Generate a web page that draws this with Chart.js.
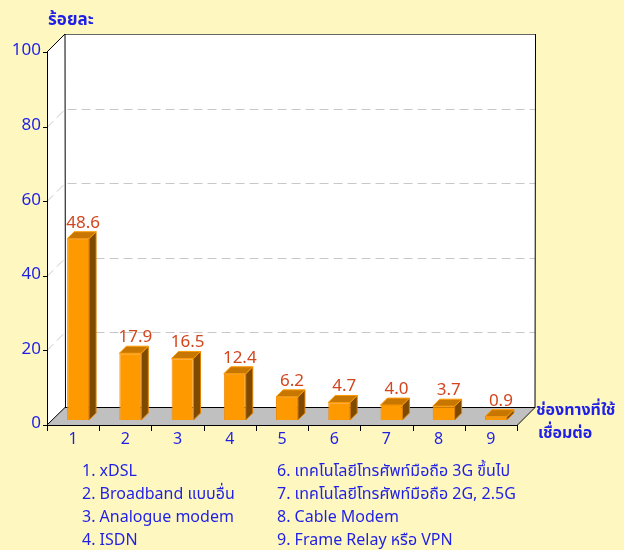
<!DOCTYPE html>
<html>
<head>
<meta charset="utf-8">
<script src="https://cdn.jsdelivr.net/npm/chart.js@4.4.1/dist/chart.umd.min.js"></script>
<style>
  html, body { margin: 0; padding: 0; background: #fef8c0; }
  #wrap { width: 624px; height: 550px; }
</style>
</head>
<body>
<div id="wrap"><canvas id="myChart" width="624" height="550"></canvas></div>
<script>
// Datos
const categorias = ["1", "2", "3", "4", "5", "6", "7", "8", "9"]
const valores = [48.6, 17.9, 16.5, 12.4, 6.2, 4.7, 4.0, 3.7, 0.9]
const ticksY = [0, 20, 40, 60, 80, 100]
const leyendaIzq = ["1. xDSL", "2. Broadband แบบอื่น", "3. Analogue modem", "4. ISDN"]
const leyendaDer = ["6. เทคโนโลยีโทรศัพท์มือถือ 3G ขึ้นไป", "7. เทคโนโลยีโทรศัพท์มือถือ 2G, 2.5G", "8. Cable Modem", "9. Frame Relay หรือ VPN"]
const tituloY = "ร้อยละ"
const tituloX = ["ช่องทางที่ใช้", "เชื่อมต่อ"]

const fuente = "Tahoma, 'Noto Sans Thai', 'Noto Sans', sans-serif"
const azul = "#1f1fe6"
const fondo = "#fef8c0"
const PROF = 18   // profundidad de la caja
const BAR_D = 7   // profundidad de la barra
const DESP = 5    // desplazamiento de la barra

const caja3d = {
    id: "caja3d",
    beforeDraw(chart) {
        const ctx = chart.ctx
        const { left, right, top, bottom } = chart.chartArea
        const y = chart.scales.y
        ctx.save()
        ctx.fillStyle = fondo
        ctx.fillRect(0, 0, chart.width, chart.height)

        // pared izquierda
        ctx.fillStyle = "#ffffff"
        ctx.beginPath()
        ctx.moveTo(left, top); ctx.lineTo(left + PROF, top - PROF)
        ctx.lineTo(left + PROF, bottom - PROF); ctx.lineTo(left, bottom)
        ctx.closePath(); ctx.fill()
        // pared del fondo
        ctx.fillRect(left + PROF, top - PROF, right - left, bottom - top)
        // piso
        ctx.fillStyle = "#c0c0c0"
        ctx.beginPath()
        ctx.moveTo(left, bottom); ctx.lineTo(left + PROF, bottom - PROF)
        ctx.lineTo(right + PROF, bottom - PROF); ctx.lineTo(right, bottom)
        ctx.closePath(); ctx.fill()

        // grilla
        ctx.strokeStyle = "#c8c8c8"
        ctx.lineWidth = 1
        ctx.setLineDash([9, 5])
        for (const v of ticksY) {
            if (v === 0 || v === 100) continue
            const py = Math.round(y.getPixelForValue(v)) + 0.5
            ctx.beginPath()
            ctx.moveTo(left, py); ctx.lineTo(left + PROF, py - PROF)
            ctx.lineTo(right + PROF, py - PROF)
            ctx.stroke()
        }
        ctx.setLineDash([])
        ctx.strokeStyle = "#666666"
        ctx.beginPath()
        ctx.moveTo(left + PROF, top - PROF + 0.5); ctx.lineTo(right + PROF, top - PROF + 0.5)
        ctx.stroke()

        // bordes
        ctx.strokeStyle = "#000000"
        ctx.beginPath()
        ctx.moveTo(left + 0.5, top); ctx.lineTo(left + 0.5, bottom + 0.5)
        ctx.lineTo(right, bottom + 0.5)
        ctx.lineTo(right + PROF, bottom - PROF + 0.5)
        ctx.lineTo(right + PROF + 0.5, top - PROF)
        ctx.moveTo(left, top); ctx.lineTo(left + PROF, top - PROF)
        ctx.lineTo(left + PROF + 0.5, bottom - PROF)
        ctx.lineTo(left, bottom)
        ctx.moveTo(left + PROF, bottom - PROF + 0.5); ctx.lineTo(right + PROF, bottom - PROF + 0.5)
        ctx.stroke()

        // marcas de los ejes
        ctx.beginPath()
        for (const v of ticksY) {
            const py = Math.round(y.getPixelForValue(v)) + 0.5
            ctx.moveTo(left - 4, py); ctx.lineTo(left, py)
        }
        const paso = (right - left) / categorias.length
        for (let i = 0; i <= categorias.length; i++) {
            const px = Math.round(left + i * paso) + 0.5
            ctx.moveTo(px, bottom); ctx.lineTo(px, bottom + 6)
        }
        ctx.stroke()
        ctx.restore()
    },
    beforeDatasetsDraw(chart) {
        chart.ctx.save()
        chart.ctx.translate(DESP, -DESP)
    },
    afterDatasetsDraw(chart) {
        const ctx = chart.ctx
        const meta = chart.getDatasetMeta(0)
        meta.data.forEach((bar, i) => {
            const { x, y, base, width } = bar.getProps(["x", "y", "base", "width"], true)
            const l = x - width / 2
            const r = x + width / 2
            // lado
            ctx.fillStyle = "#7d4a00"
            ctx.strokeStyle = "#e08000"
            ctx.lineWidth = 1
            ctx.beginPath()
            ctx.moveTo(r, y); ctx.lineTo(r + BAR_D, y - BAR_D)
            ctx.lineTo(r + BAR_D, base - BAR_D); ctx.lineTo(r, base)
            ctx.closePath(); ctx.fill(); ctx.stroke()
            // tapa
            ctx.fillStyle = "#c77700"
            ctx.strokeStyle = "#ff9900"
            ctx.beginPath()
            ctx.moveTo(l, y); ctx.lineTo(l + BAR_D, y - BAR_D)
            ctx.lineTo(r + BAR_D, y - BAR_D); ctx.lineTo(r, y)
            ctx.closePath(); ctx.fill(); ctx.stroke()
            // etiqueta
            ctx.fillStyle = "#d2461e"
            ctx.font = "17px " + fuente
            ctx.textAlign = "center"
            ctx.textBaseline = "bottom"
            ctx.fillText(valores[i].toFixed(1), x + 5, y - BAR_D + 1)
        })
        ctx.restore()
    },
    afterDraw(chart) {
        const ctx = chart.ctx
        ctx.save()
        ctx.fillStyle = azul
        ctx.textBaseline = "middle"
        ctx.textAlign = "left"
        ctx.font = "bold 17px " + fuente
        ctx.fillText(tituloY, 48, 22)
        ctx.font = "bold 16px " + fuente
        ctx.fillText(tituloX[0], 536, 412)
        ctx.fillText(tituloX[1], 538, 435)
        ctx.font = "16px " + fuente
        leyendaIzq.forEach((t, i) => ctx.fillText(t, 82, 473 + i * 23))
        leyendaDer.forEach((t, i) => ctx.fillText(t, 277, 473 + i * 23))
        ctx.restore()
    }
}

const config = {
    type: "bar",
    data: {
        labels: categorias,
        datasets: [{
            data: valores,
            backgroundColor: "#ff9900",
            borderColor: "#f08800",
            borderWidth: 1,
            categoryPercentage: 1,
            barPercentage: 0.42,
            clip: false
        }]
    },
    options: {
        responsive: false,
        animation: false,
        layout: { padding: { top: 52, right: 107, bottom: 95, left: 0 } },
        plugins: { legend: { display: false }, tooltip: { enabled: false } },
        scales: {
            x: {
                grid: { display: false, drawTicks: false },
                border: { display: false },
                ticks: { color: azul, font: { size: 16, family: fuente }, padding: 6, maxRotation: 0 },
                afterFit: (s) => { s.height = 30 }
            },
            y: {
                min: 0,
                max: 100,
                grid: { display: false, drawTicks: false },
                border: { display: false },
                ticks: { stepSize: 20, color: azul, font: { size: 17, family: fuente }, padding: 6 },
                afterFit: (s) => { s.width = 47 }
            }
        }
    },
    plugins: [caja3d]
}

const myChart = new Chart(document.querySelector("#myChart").getContext("2d"), config)
</script>
</body>
</html>
